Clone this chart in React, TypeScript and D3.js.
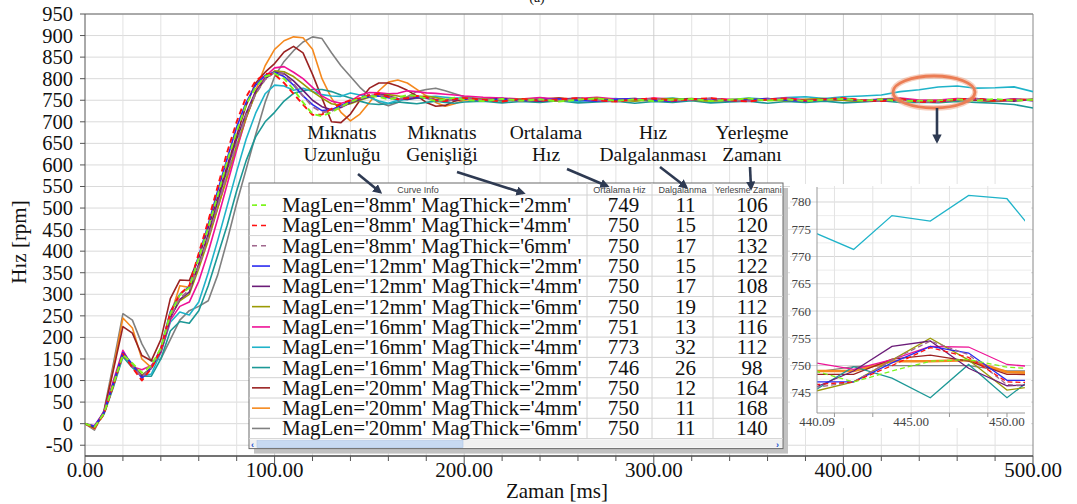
import React from 'react';
import * as d3 from 'd3';

const serif = "'Liberation Serif','Times New Roman',Times,serif";
const sans = "'Liberation Sans',Arial,Helvetica,sans-serif";

// time samples [ms]
const TIME = [
  0, 5, 10, 15, 20, 25, 30, 35, 40, 45,
  50, 55, 60, 65, 70, 75, 80, 85, 90, 95,
  100, 105, 110, 115, 120, 125, 130, 135, 140, 145,
  150, 155, 160, 165, 170, 175, 180, 185, 190, 195,
  200,
  210, 220, 230, 240, 250, 260, 270, 280, 290, 300,
  310, 320, 330, 340, 350, 360, 370, 380, 390, 400,
  410, 420, 430, 440, 450, 460, 470, 480, 490, 500,
];

// speed [rpm] for each magnet geometry
const SPEED_8_2 = [
  0, -8, 24, 92, 160, 140, 118, 135, 175, 255, 298, 315, 385, 455, 530, 608, 678, 740, 780, 805,
  812, 800, 775, 745, 718, 713, 722, 735, 746, 755, 760, 758, 752, 756, 762, 760, 754, 748, 752, 756, 751,
  748, 753, 749, 752, 747, 751, 754, 749, 752, 748, 751, 753, 748, 751, 754, 749, 752, 748, 751, 753,
  749, 752, 748, 749, 749.7, 752, 749, 753, 749, 751,
];
const SPEED_8_4 = [
  0, -10, 22, 90, 162, 130, 100, 128, 172, 258, 300, 320, 395, 470, 550, 630, 700, 758, 795, 812,
  810, 790, 765, 740, 716, 717, 730, 742, 750, 755, 762, 765, 758, 752, 755, 760, 757, 750, 748, 753, 755,
  751, 747, 753, 749, 752, 755, 750, 747, 752, 754, 749, 752, 755, 750, 747, 752, 754, 749, 752, 755,
  750, 748, 753, 746.5, 747, 752, 754, 749, 752, 750,
];
const SPEED_8_6 = [
  0, -9, 24, 90, 160, 135, 108, 130, 170, 250, 290, 310, 365, 432, 505, 580, 650, 715, 765, 798,
  815, 810, 788, 760, 735, 722, 725, 735, 746, 754, 760, 762, 758, 752, 756, 760, 756, 750, 748, 752, 754,
  750, 753, 748, 752, 749, 754, 750, 747, 752, 753, 749, 751, 754, 750, 748, 752, 753, 749, 751, 754,
  750, 748, 752, 746, 746.5, 751, 753, 749, 752, 750,
];
const SPEED_12_2 = [
  0, -6, 26, 95, 165, 138, 105, 130, 175, 260, 300, 318, 390, 462, 540, 615, 688, 745, 785, 808,
  815, 805, 785, 760, 740, 726, 728, 738, 747, 754, 758, 760, 756, 752, 755, 758, 755, 751, 749, 752, 753,
  750, 752, 749, 751, 753, 750, 748, 752, 754, 750, 748, 751, 753, 749, 751, 754, 750, 748, 752, 753,
  749, 751, 753, 747, 747.3, 751, 753, 750, 752, 749,
];
const SPEED_12_4 = [
  0, -7, 25, 92, 163, 136, 110, 128, 168, 245, 288, 305, 370, 440, 515, 590, 660, 720, 770, 800,
  815, 812, 795, 773, 750, 735, 728, 733, 744, 752, 760, 764, 760, 754, 752, 756, 755, 751, 748, 751, 754,
  751, 754, 750, 748, 752, 755, 750, 748, 753, 751, 748, 752, 754, 750, 748, 753, 751, 749, 752, 754,
  750, 748, 752, 746, 746.3, 751, 754, 750, 748, 752,
];
const SPEED_12_6 = [
  0, -8, 24, 90, 162, 137, 112, 130, 170, 248, 285, 300, 360, 425, 500, 575, 645, 710, 765, 800,
  818, 816, 805, 788, 770, 755, 742, 738, 742, 750, 757, 762, 763, 760, 756, 758, 760, 756, 752, 752, 755,
  752, 749, 753, 751, 748, 752, 755, 750, 748, 752, 754, 750, 748, 751, 754, 750, 749, 752, 754, 750,
  748, 752, 754, 745.3, 745.5, 750, 753, 749, 751, 752,
];
const SPEED_16_2 = [
  0, -5, 28, 100, 170, 132, 125, 135, 165, 240, 272, 282, 330, 398, 475, 555, 635, 710, 768, 805,
  825, 828, 815, 800, 780, 760, 748, 743, 748, 762, 768, 767, 765, 766, 772, 770, 767, 766, 764, 762, 760,
  757, 755, 753, 756, 752, 754, 757, 753, 751, 755, 753, 750, 754, 752, 749, 753, 755, 751, 752, 754,
  750, 753, 755, 750.5, 750.2, 754, 752, 750, 753, 751,
];
const SPEED_16_4 = [
  0, -6, 25, 90, 160, 135, 110, 115, 165, 235, 259, 252, 282, 350, 425, 505, 585, 660, 720, 765,
  785, 783, 773, 778, 770, 763, 760, 759, 767, 762, 757, 748, 743, 750, 752, 755, 758, 759, 757, 755, 755,
  752, 748, 751, 755, 750, 747, 752, 754, 749, 752, 755, 750, 753, 751, 755, 752, 756, 758, 754, 758,
  760, 762, 770, 774.3, 780.6, 783, 778, 779, 781, 770,
];
const SPEED_16_6 = [
  0, -8, 22, 85, 155, 130, 110, 110, 150, 215, 237, 233, 262, 320, 390, 460, 540, 610, 665, 700,
  722, 748, 766, 772, 775, 775, 770, 762, 755, 748, 742, 740, 742, 746, 744, 742, 745, 748, 745, 743, 746,
  748, 744, 747, 745, 749, 744, 746, 748, 743, 747, 745, 749, 744, 746, 748, 743, 747, 745, 748, 744,
  746, 749, 745, 745.5, 744.1, 747, 745, 743, 740, 732,
];
const SPEED_20_2 = [
  0, -10, 28, 125, 225, 210, 158, 146, 195, 290, 333, 332, 385, 455, 525, 598, 668, 738, 790, 815,
  835, 862, 875, 860, 810, 755, 700, 698, 718, 750, 778, 790, 790, 783, 773, 760, 745, 736, 738, 748, 753,
  750, 754, 749, 752, 755, 751, 749, 753, 751, 748, 752, 754, 750, 748, 752, 753, 749, 751, 753, 750,
  748, 752, 751, 748.4, 748.4, 752, 750, 748, 751, 750,
];
const SPEED_20_4 = [
  0, -12, 25, 130, 245, 222, 150, 130, 165, 250, 320, 316, 368, 432, 500, 570, 640, 708, 772, 830,
  868, 888, 897, 895, 868, 800, 755, 722, 702, 718, 745, 772, 792, 797, 790, 775, 760, 745, 736, 742, 750,
  754, 750, 748, 752, 755, 751, 748, 752, 754, 750, 748, 753, 751, 749, 752, 754, 750, 748, 752, 751,
  749, 752, 753, 749, 748.8, 752, 750, 748, 751, 750,
];
const SPEED_20_6 = [
  0, -15, 30, 140, 255, 240, 185, 145, 150, 195, 240, 262, 272, 285, 345, 425, 511, 590, 670, 745,
  805, 840, 865, 885, 897, 893, 860, 830, 805, 780, 760, 745, 737, 745, 758, 770, 775, 778, 772, 765, 758,
  753, 750, 752, 749, 753, 751, 748, 752, 750, 753, 749, 751, 753, 750, 748, 752, 751, 749, 752, 750,
  748, 751, 752, 748.8, 749, 752, 750, 748, 751, 750,
];

// zoomed window 440-450 ms
const ZOOM_TIME = [440, 442, 444, 446, 448, 450, 452];
const ZOOM_8_2 = [749, 747, 749, 750.8, 751.1, 749.7, 749.3];
const ZOOM_8_4 = [746.5, 747, 750, 753.3, 751.5, 747, 746.8];
const ZOOM_8_6 = [746, 747, 751, 754.5, 752, 746.5, 746.2];
const ZOOM_12_2 = [747, 747, 750.5, 753.5, 752.3, 747.3, 747.3];
const ZOOM_12_4 = [746, 749, 753.5, 754.5, 749.5, 746.3, 746.5];
const ZOOM_12_6 = [745.3, 747, 751, 755, 751, 745.5, 746.5];
const ZOOM_16_2 = [750.5, 749.3, 751.1, 753.5, 753.4, 750.2, 749.6];
const ZOOM_16_4 = [774.3, 771.3, 777.5, 776.5, 781.2, 780.6, 772];
const ZOOM_16_6 = [745.5, 749.8, 747.7, 744.1, 750.2, 744.1, 749.5];
const ZOOM_20_2 = [748.4, 748.4, 751.2, 751.9, 750.8, 748.4, 748.3];
const ZOOM_20_4 = [749, 749, 750.8, 750.8, 751, 748.8, 748.6];
const ZOOM_20_6 = [748.8, 749.8, 750, 750, 750, 749, 749];

// table columns
const LABELS = [
  "MagLen='8mm' MagThick='2mm'",
  "MagLen='8mm' MagThick='4mm'",
  "MagLen='8mm' MagThick='6mm'",
  "MagLen='12mm' MagThick='2mm'",
  "MagLen='12mm' MagThick='4mm'",
  "MagLen='12mm' MagThick='6mm'",
  "MagLen='16mm' MagThick='2mm'",
  "MagLen='16mm' MagThick='4mm'",
  "MagLen='16mm' MagThick='6mm'",
  "MagLen='20mm' MagThick='2mm'",
  "MagLen='20mm' MagThick='4mm'",
  "MagLen='20mm' MagThick='6mm'",
];
const AVG_SPEED = [749, 750, 750, 750, 750, 750, 751, 773, 746, 750, 750, 750];
const RIPPLE = [11, 15, 17, 15, 17, 19, 13, 32, 26, 12, 11, 11];
const SETTLE = [106, 120, 132, 122, 108, 112, 116, 112, 98, 164, 168, 140];
const COLORS = ['#7cf51c', '#ff1010', '#a0688e', '#2a2af0', '#6b1c78', '#9b9a05', '#ee1196', '#1fb3c9', '#1c9896', '#9a2222', '#f5891e', '#808080'];
const DASHED = [true, true, true, false, false, false, false, false, false, false, false, false];

const SERIES = [SPEED_8_2, SPEED_8_4, SPEED_8_6, SPEED_12_2, SPEED_12_4, SPEED_12_6, SPEED_16_2, SPEED_16_4, SPEED_16_6, SPEED_20_2, SPEED_20_4, SPEED_20_6];
const ZOOM_SERIES = [ZOOM_8_2, ZOOM_8_4, ZOOM_8_6, ZOOM_12_2, ZOOM_12_4, ZOOM_12_6, ZOOM_16_2, ZOOM_16_4, ZOOM_16_6, ZOOM_20_2, ZOOM_20_4, ZOOM_20_6];

const X_LABELS = [0, 100, 200, 300, 400, 500];
const ZOOM_X_LABELS = [440.09, 445, 450];

// annotations above the table
const NOTES = [
  { x: 342, lines: ['Mıknatıs', 'Uzunluğu'], from: [358, 174], to: [380, 192] },
  { x: 442, lines: ['Mıknatıs', 'Genişliği'], from: [457, 172], to: [523, 193] },
  { x: 546, lines: ['Ortalama', 'Hız'], from: [567, 169], to: [607, 186] },
  { x: 653, lines: ['Hız', 'Dalgalanması'], from: [660, 167], to: [686, 187] },
  { x: 752, lines: ['Yerleşme', 'Zamanı'], from: [750, 167], to: [751, 188] },
];

export default function App() {
  const x = d3.scaleLinear().domain([0, 500]).range([85, 1033]);
  const y = d3.scaleLinear().domain([-75, 950]).range([456, 14]);
  const line = d3.line<number>().x((_, i) => x(TIME[i])).y((d) => y(d));

  const ix = d3.scaleLinear().domain([440.09, 450.94]).range([817, 1025]);
  const iy = d3.scaleLinear().domain([741.3, 782.75]).range([413, 187]);
  const zline = d3.line<number>().x((_, i) => ix(ZOOM_TIME[i])).y((d) => iy(d));

  const [x0, x1] = x.range();
  const [yb, yt] = y.range();

  // table geometry
  const cols = [249, 587, 652, 713, 783];
  const tTop = 183;
  const headH = 12;
  const rowH = 20.3;
  const rowsBottom = tTop + headH + rowH * LABELS.length;
  const tBottom = rowsBottom + 10;
  const order = d3.range(SERIES.length).reverse();

  return (
    <svg width={1077} height={504} style={{ position: 'absolute', left: 0, top: 0, background: '#fff' }}>
      <defs>
        <clipPath id="plot"><rect x={x0} y={yt} width={x1 - x0} height={yb - yt} /></clipPath>
        <clipPath id="zoom"><rect x={817} y={187} width={208} height={226} /></clipPath>
        <clipPath id="c4"><rect x={cols[3] + 1} y={tTop} width={cols[4] - cols[3] - 2} height={headH} /></clipPath>
        <marker id="ah" viewBox="0 0 10 10" refX="7" refY="5" markerWidth="3.6" markerHeight="3.6" orient="auto">
          <path d="M0,0 L10,5 L0,10 z" fill="#2e3a52" />
        </marker>
      </defs>

      {/* main grid */}
      {d3.range(-50, 951, 50).map((v) => (
        <line key={'h' + v} x1={x0} x2={x1} y1={y(v)} y2={y(v)} stroke="#dadada" strokeWidth={1} />
      ))}
      {d3.range(20, 500, 20).map((t) => (
        <line key={'v' + t} x1={x(t)} x2={x(t)} y1={yt} y2={yb} stroke={t % 100 === 0 ? '#cfcfcf' : '#e2e2e2'} strokeWidth={1} />
      ))}
      <line x1={x0} x2={x1} y1={yt} y2={yt} stroke="#666" />
      <line x1={x1} x2={x1} y1={yt} y2={yb} stroke="#888" />

      {/* curves */}
      <g clipPath="url(#plot)">
        {order.map((i) => (
          <path key={i} d={line(SERIES[i]) || ''} fill="none" stroke={COLORS[i]}
            strokeWidth={DASHED[i] ? 1.9 : 1.6} strokeDasharray={DASHED[i] ? '6,4' : undefined}
            strokeLinejoin="round" />
        ))}
      </g>

      {/* axes */}
      <line x1={x0} x2={x0} y1={yt} y2={yb} stroke="#555" />
      <line x1={x0} x2={x1} y1={yb} y2={yb} stroke="#444" strokeWidth={1.3} />
      {d3.range(0, 501, 20).map((t) => (
        <line key={'xt' + t} x1={x(t)} x2={x(t)} y1={yb} y2={yb + (t % 100 === 0 ? 8 : 5)} stroke="#555" />
      ))}
      {d3.range(-50, 951, 50).map((v) => (
        <g key={'yl' + v}>
          <line x1={x0 - 5} x2={x0} y1={y(v)} y2={y(v)} stroke="#555" />
          <text x={73} y={y(v) + 7} textAnchor="end" fontFamily={serif} fontSize={20.5} fill="#111">{v}</text>
        </g>
      ))}
      {X_LABELS.map((t) => (
        <text key={'xl' + t} x={x(t)} y={477} textAnchor="middle" fontFamily={serif} fontSize={21} fill="#111">{t.toFixed(2)}</text>
      ))}
      <text x={557} y={498} textAnchor="middle" fontFamily={serif} fontSize={21} fill="#111">Zaman [ms]</text>
      <text transform="translate(26,242) rotate(-90)" textAnchor="middle" fontFamily={serif} fontSize={21} fill="#111">Hız [rpm]</text>
      <text x={537} y={2} textAnchor="middle" fontFamily={serif} fontSize={14} fill="#111">(a)</text>

      {/* zoom panel */}
      <rect x={790} y={184} width={241} height={244} fill="#fff" />
      {d3.range(742.5, 782.6, 2.5).map((v) => (
        <line key={'ih' + v} x1={v % 5 === 0 ? 790 : 817} x2={1031} y1={iy(v)} y2={iy(v)}
          stroke={v % 5 === 0 ? '#d6d6d6' : '#ececec'} />
      ))}
      {[441, 443, 445, 447, 449].map((t) => (
        <line key={'iv' + t} x1={ix(t)} x2={ix(t)} y1={186} y2={413} stroke="#e3e3e3" />
      ))}
      <g clipPath="url(#zoom)">
        {order.map((i) => (
          <path key={'z' + i} d={zline(ZOOM_SERIES[i]) || ''} fill="none" stroke={COLORS[i]}
            strokeWidth={i === 10 ? 2.6 : 1.3} strokeDasharray={DASHED[i] ? '5,3' : undefined} />
        ))}
      </g>
      <line x1={817} x2={817} y1={187} y2={413} stroke="#999" />
      <line x1={817} x2={1025} y1={413} y2={413} stroke="#999" />
      {[441, 443, 445, 447, 449, 450].map((t) => (
        <line key={'it' + t} x1={ix(t)} x2={ix(t)} y1={413} y2={417} stroke="#999" />
      ))}
      {d3.range(745, 781, 5).map((v) => (
        <text key={'iyl' + v} x={811} y={iy(v) + 4.5} textAnchor="end" fontFamily={serif} fontSize={13} fill="#444">{v}</text>
      ))}
      {ZOOM_X_LABELS.map((t) => (
        <text key={'ixl' + t} x={ix(t)} y={426} textAnchor="middle" fontFamily={serif} fontSize={13} fill="#444">{t.toFixed(2)}</text>
      ))}

      {/* table */}
      <rect x={cols[0] + 5} y={tTop + 5} width={cols[4] - cols[0]} height={tBottom - tTop} fill="#c2c2c2" />
      <rect x={cols[0]} y={tTop} width={cols[4] - cols[0]} height={tBottom - tTop} fill="#fff" stroke="#6a6a6a" strokeWidth={1} />
      {d3.range(LABELS.length + 1).map((r) => (
        <line key={'tr' + r} x1={cols[0]} x2={cols[4]} y1={tTop + headH + r * rowH} y2={tTop + headH + r * rowH} stroke="#d2d2d2" />
      ))}
      {cols.slice(1, 4).map((c) => (
        <line key={'tc' + c} x1={c} x2={c} y1={tTop} y2={rowsBottom} stroke="#d2d2d2" />
      ))}
      <text x={(cols[0] + cols[1]) / 2} y={tTop + 9.5} textAnchor="middle" fontFamily={sans} fontSize={9} fill="#444">Curve Info</text>
      <text x={(cols[1] + cols[2]) / 2} y={tTop + 9.5} textAnchor="middle" fontFamily={sans} fontSize={9} fill="#444">Ortalama Hiz</text>
      <text x={(cols[2] + cols[3]) / 2} y={tTop + 9.5} textAnchor="middle" fontFamily={sans} fontSize={9} fill="#444">Dalgalanma</text>
      <text x={cols[3] + 2} y={tTop + 9.5} fontFamily={sans} fontSize={8.6} fill="#444" clipPath="url(#c4)">Yerlesme Zamani...</text>
      {LABELS.map((lab, i) => {
        const cy = tTop + headH + rowH * (i + 0.5);
        return (
          <g key={'row' + i}>
            <line x1={252} x2={270} y1={cy} y2={cy} stroke={COLORS[i]} strokeWidth={1.6} strokeDasharray={DASHED[i] ? '5,4' : undefined} />
            <text x={282} y={cy + 7} fontFamily={serif} fontSize={21} fill="#111">{lab}</text>
            <text x={(cols[1] + cols[2]) / 2 + 4} y={cy + 7} textAnchor="middle" fontFamily={serif} fontSize={21} fill="#111">{AVG_SPEED[i]}</text>
            <text x={(cols[2] + cols[3]) / 2 + 3} y={cy + 7} textAnchor="middle" fontFamily={serif} fontSize={21} fill="#111">{RIPPLE[i]}</text>
            <text x={(cols[3] + cols[4]) / 2 + 4} y={cy + 7} textAnchor="middle" fontFamily={serif} fontSize={21} fill="#111">{SETTLE[i]}</text>
          </g>
        );
      })}
      {/* scrollbar */}
      <rect x={cols[0] + 1} y={rowsBottom + 1} width={cols[4] - cols[0] - 2} height={8} fill="#f0f0f0" />
      <rect x={257} y={rowsBottom + 2} width={206} height={7} fill="#c7d9f1" stroke="#aec6e8" strokeWidth={0.6} />
      <text x={251} y={rowsBottom + 9} fontFamily={sans} fontSize={9} fontWeight="bold" fill="#2050d0">‹</text>
      <text x={776} y={rowsBottom + 9} fontFamily={sans} fontSize={9} fontWeight="bold" fill="#2050d0">›</text>

      {/* highlight of the 16mm/4mm drift */}
      <ellipse cx={934} cy={92} rx={41} ry={16} fill="none" stroke="#f0a07e" strokeWidth={5.5} opacity={0.5} />
      <ellipse cx={934} cy={92} rx={41} ry={16} fill="none" stroke="#eb7d55" strokeWidth={2.8} />
      <line x1={937} y1={108} x2={937} y2={141} stroke="#2e3a52" strokeWidth={2.6} markerEnd="url(#ah)" />

      {/* annotations */}
      {NOTES.map((n, k) => (
        <g key={'n' + k}>
          <text x={n.x} y={139} textAnchor="middle" fontFamily={serif} fontSize={19.5} fill="#111">{n.lines[0]}</text>
          <text x={n.x} y={161} textAnchor="middle" fontFamily={serif} fontSize={19.5} fill="#111">{n.lines[1]}</text>
          <line x1={n.from[0]} y1={n.from[1]} x2={n.to[0]} y2={n.to[1]} stroke="#2e3a52" strokeWidth={2.6} markerEnd="url(#ah)" />
        </g>
      ))}
    </svg>
  );
}
